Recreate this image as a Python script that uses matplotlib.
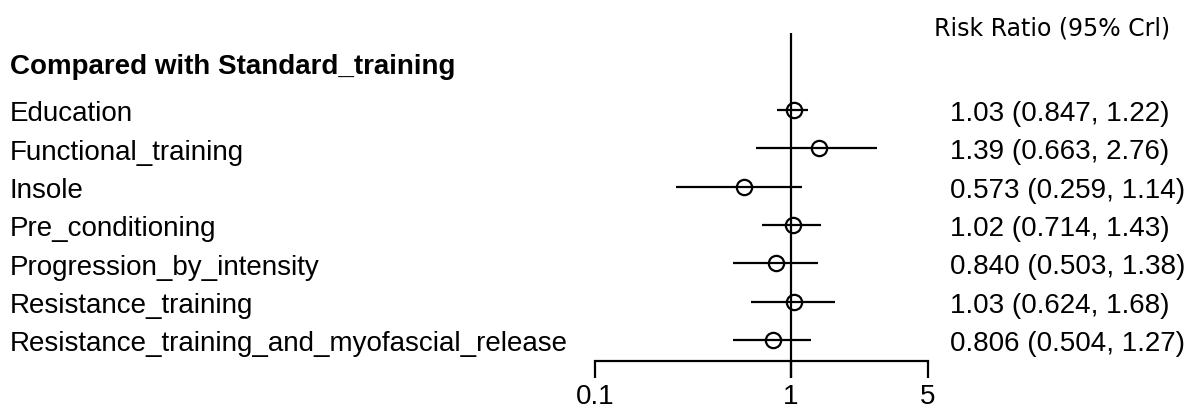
import numpy as np
import matplotlib
matplotlib.use("Agg")
import matplotlib.pyplot as plt

# Network meta-analysis: risk ratios versus standard training
treatments = [
    "Education",
    "Functional_training",
    "Insole",
    "Pre_conditioning",
    "Progression_by_intensity",
    "Resistance_training",
    "Resistance_training_and_myofascial_release",
]
rr = [1.03, 1.39, 0.573, 1.02, 0.840, 1.03, 0.806]
lower = [0.847, 0.663, 0.259, 0.714, 0.503, 0.624, 0.504]
upper = [1.22, 2.76, 1.14, 1.43, 1.38, 1.68, 1.27]
rr_text = ["1.03", "1.39", "0.573", "1.02", "0.840", "1.03", "0.806"]
lo_text = ["0.847", "0.663", "0.259", "0.714", "0.503", "0.624", "0.504"]
hi_text = ["1.22", "2.76", "1.14", "1.43", "1.38", "1.68", "1.27"]
x_ticks = [0.1, 1, 5]
x_tick_labels = ["0.1", "1", "5"]

FONT = "Liberation Sans"

W, H = 1199, 412
fig = plt.figure(figsize=(W / 100, H / 100), dpi=100)
ax = fig.add_axes([0, 0, 1, 1])
ax.set_xscale("log")
# one decade ~196 px, 0.1 placed at x=595 px
dec = 196.0
x0 = 595.0
ax.set_xlim(10 ** (-1 - x0 / dec), 10 ** (-1 + (W - x0) / dec))
# rows spaced ~38.3 px, first row at y=110 px
step = 38.33
ax.set_ylim((H - 110) / step, -110 / step)
ax.axis("off")

n = len(treatments)
rows = np.arange(n)
axis_y = 6.54
tick_bot = 6.99
lw = 1.6

# reference line at RR = 1
ax.plot([1, 1], [-2.0, tick_bot], color="black", lw=lw, solid_capstyle="butt")

# credible intervals and point estimates
for i in range(n):
    ax.plot([lower[i], upper[i]], [i, i], color="black", lw=lw, solid_capstyle="butt")
ax.plot(rr, rows, linestyle="none", marker="o", markersize=11,
        markerfacecolor="none", markeredgecolor="black", markeredgewidth=1.6)

# x axis
ax.plot([x_ticks[0], x_ticks[-1]], [axis_y, axis_y], color="black", lw=lw,
        solid_capstyle="projecting")
for t, lab in zip(x_ticks, x_tick_labels):
    ax.plot([t, t], [axis_y, tick_bot], color="black", lw=lw, solid_capstyle="butt")
    ax.text(t, 7.68, lab, ha="center", va="baseline", fontsize=20, family=FONT)

# labels
tx = ax.get_yaxis_transform()
ax.text(10 / W, -0.94, "Compared with Standard_training", transform=tx,
        ha="left", va="baseline", fontsize=20, fontweight="bold", family=FONT)
ax.text(1170 / W, -1.956, "Risk Ratio (95% Crl)", transform=tx,
        ha="right", va="baseline", fontsize=17, family="DejaVu Sans")
for i in range(n):
    ax.text(10 / W, i + 0.30, treatments[i], transform=tx, ha="left", va="baseline",
            fontsize=20, family=FONT)
    ax.text(950 / W, i + 0.29, f"{rr_text[i]} ({lo_text[i]}, {hi_text[i]})",
            transform=tx, ha="left", va="baseline", fontsize=20, family=FONT)

fig.savefig("out.png", dpi=100)
